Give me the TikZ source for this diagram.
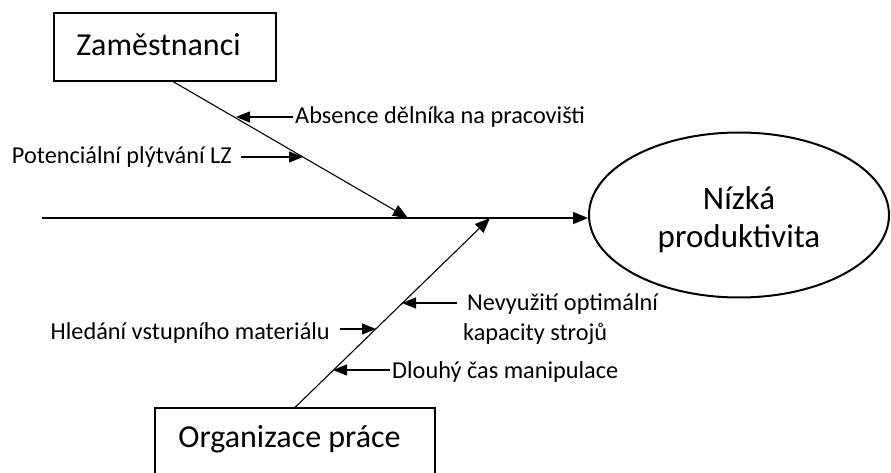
\documentclass[tikz,border=0pt]{standalone}
\usepackage{fontspec}
\setmainfont{Carlito}
\usetikzlibrary{arrows.meta,shapes.geometric}
\begin{document}
\begin{tikzpicture}[x=1pt,y=-1pt,
  catbox/.style={draw, line width=1.1pt, inner sep=0pt, font=\fontsize{32}{38}\selectfont},
  effect/.style={draw, ellipse, line width=2pt, minimum width=300pt, minimum height=165pt,
    inner sep=0pt, align=center, font=\fontsize{33}{38}\selectfont},
  cause/.style={inner sep=2pt, font=\fontsize{24.3}{30}\selectfont},
  bone/.style={line width=1.1pt, -{Triangle[length=15pt,width=12pt]}},
  spine/.style={line width=1.5pt, -{Triangle[length=15pt,width=12pt]}},
  twig/.style={line width=1.2pt, -{Triangle[length=14pt,width=11pt]}}]
\useasboundingbox[fill=white] (0,0) rectangle (891,473);

% categories and effect
\node[catbox, minimum width=222pt, minimum height=68pt, text height=22pt, text depth=4pt]
  (zam) at (165,47) {Zaměstnanci\hspace*{13pt}};
\node[catbox, minimum width=280pt, minimum height=80pt, text height=23pt, text depth=25pt]
  (org) at (295,448) {Organizace práce\hspace*{11pt}};
\node[effect] (eff) at (739,215) {\rule{0pt}{32pt}Nízká\\produktivita};

% spine and main bones
\coordinate (tail) at (42,218);
\coordinate (j1) at (408,218);
\coordinate (j2) at (490,218);
\draw[spine] (tail) -- (tail -| eff.west);
\draw[bone] (zam.south) ++(8,0) -- (j1);
\draw[bone] (org.north) -- (j2);

% points where the causes meet the bones
\coordinate (t1) at (236,117);
\coordinate (t2) at (303,157);
\coordinate (t3) at (402,303);
\coordinate (t4) at (376,329);
\coordinate (t5) at (333,370);

% causes
\node[cause, anchor=base west] (absn) at (293,124) {Absence dělníka na pracovišti};
\node[cause, anchor=base east] (plyt) at (234,164) {Potenciální plýtvání LZ};
\node[cause, anchor=base west, align=left] (nevy) at (461,340)
  {\hspace*{4pt}Nevyužití optimální\\kapacity strojů};
\node[cause, anchor=base east] (hled) at (332,339) {Hledání vstupního materiálu};
\node[cause, anchor=base west] (dlou) at (390,378) {Dlouhý čas manipulace};

\draw[twig] (absn.west |- t1) -- (t1);
\draw[twig] (plyt.east |- t2) ++(7,0) -- (t2);
\draw[twig] (nevy.west |- t3) ++(-4,0) -- (t3);
\draw[twig] (hled.east |- t4) ++(8,0) -- (t4);
\draw[twig] (dlou.west |- t5) -- (t5);
\end{tikzpicture}
\end{document}
